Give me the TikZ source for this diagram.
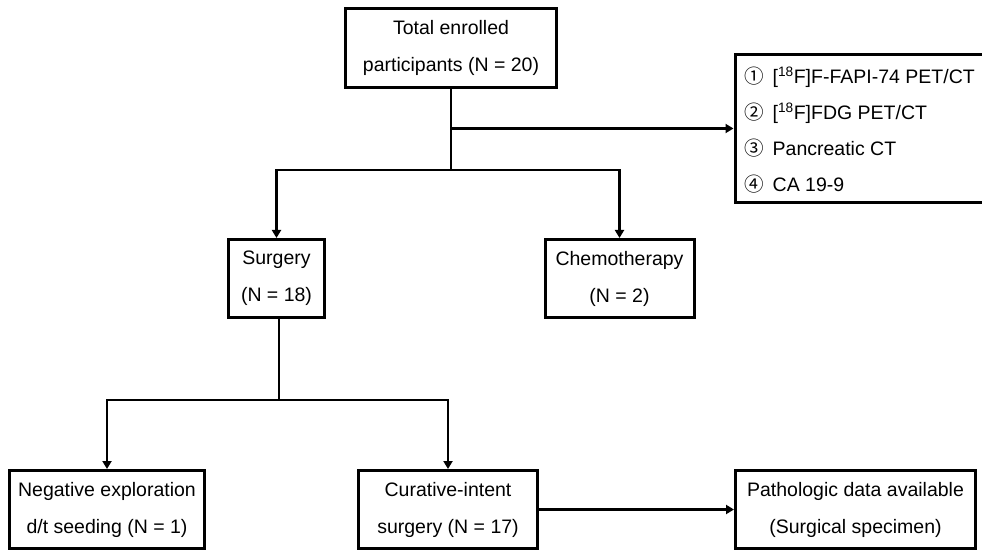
\documentclass[tikz,border=0pt]{standalone}
\usepackage{fontspec}
\setmainfont{Liberation Sans}
\newfontfamily\symfont{Noto Sans CJK KR}
\usetikzlibrary{arrows.meta,calc}
\begin{document}
\begin{tikzpicture}[x=1pt,y=1pt,
  box/.style={draw=black,line width=3pt,align=center,inner sep=0pt,
    font=\fontsize{19.5}{37}\selectfont},
  conn/.style={draw=black,line width=2.2pt},
  arr/.style={conn,-{Triangle[width=9pt,length=8pt]}},
  lst/.style={align=left,inner sep=0pt,anchor=west,
    font=\fontsize{19.5}{36}\selectfont}]
\useasboundingbox (0,0) rectangle (982,552);
\node[box,minimum width=211pt,minimum height=79pt] (top) at (451,504)
  {Total enrolled\\participants (N = 20)};
\node[box,minimum width=248pt,minimum height=148pt] (right) at (859,423.5) {};
\node[lst] (rtext) at ($(right.west)+(11,-1.5)$)
  {\makebox[28pt][l]{\symfont ①}[\textsuperscript{18}F]F-FAPI-74 PET/CT\\
   \makebox[28pt][l]{\symfont ②}[\textsuperscript{18}F]FDG PET/CT\\
   \makebox[28pt][l]{\symfont ③}Pancreatic CT\\
   \makebox[28pt][l]{\symfont ④}CA 19-9};
\node[box,minimum width=96pt,minimum height=78pt] (surg) at (276.5,273.5)
  {Surgery\\(N = 18)};
\node[box,minimum width=149pt,minimum height=78pt] (chemo) at (619.5,273.5)
  {Chemotherapy\\(N = 2)};
\node[box,minimum width=195pt,minimum height=78pt] (neg) at (107,42.5)
  {Negative exploration\\d/t seeding (N = 1)};
\node[box,minimum width=179pt,minimum height=78pt] (cur) at (448,42.5)
  {Curative-intent\\surgery (N = 17)};
\node[box,minimum width=240pt,minimum height=78pt] (path) at (855.5,42.5)
  {Pathologic data available\\(Surgical specimen)};
\coordinate (j1) at (451,382);
\coordinate (b1) at (451,423.5);
\coordinate (j2) at (279,152);
\draw[conn] (top.south) -- (j1);
\draw[arr] (b1) -- (right.west);
\draw[arr] (j1) -| (surg.north);
\draw[arr] (j1) -| (chemo.north);
\draw[conn] (surg.south -| j2) -- (j2);
\draw[arr] (j2) -| (neg.north);
\draw[arr] (j2) -| (cur.north);
\draw[arr] (cur.east) -- (path.west);
\end{tikzpicture}
\end{document}
